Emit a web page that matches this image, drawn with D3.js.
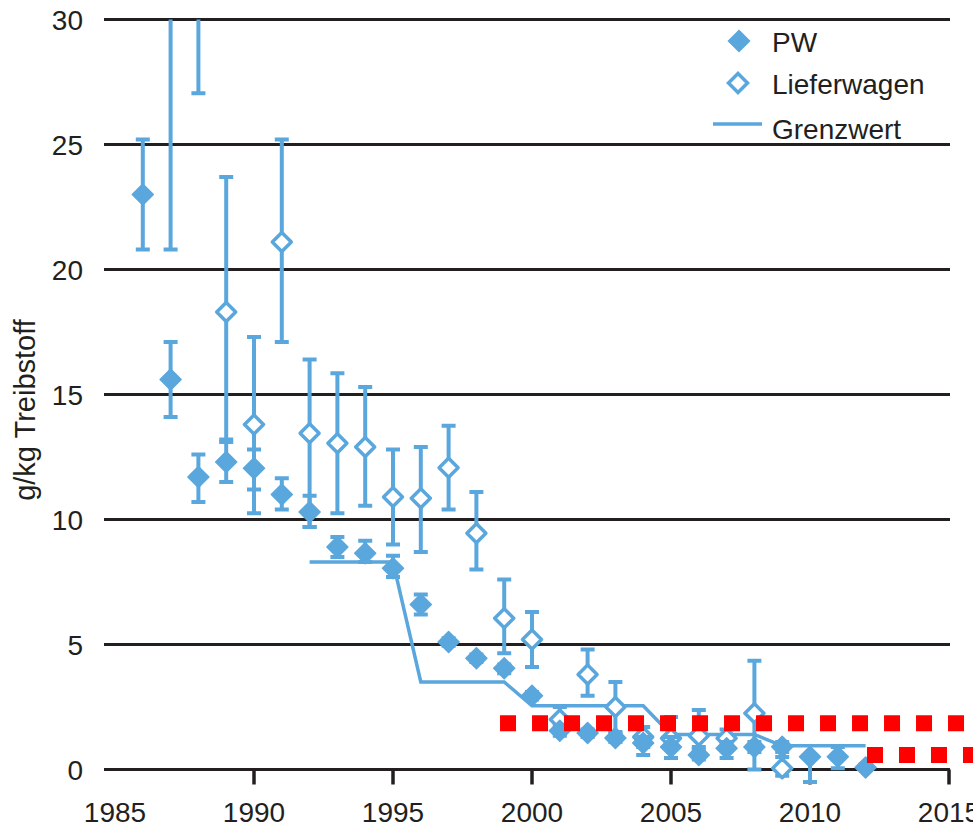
<!DOCTYPE html>
<html>
<head>
<meta charset="utf-8">
<script src="https://cdn.jsdelivr.net/npm/d3@7"></script>
<style>
  body { margin: 0; background: #fff; }
  svg { display: block; }
  text { font-family: "Liberation Sans", Arial, sans-serif; fill: #231f20; }
</style>
</head>
<body>
<svg id="chart"></svg>
<script>
// PW (filled diamonds)
const pwYears  = [1986,1987,1988,1989,1990,1991,1992,1993,1994,1995,1996,1997,1998,1999,2000,2001,2002,2003,2004,2005,2006,2007,2008,2009,2010,2011,2012];
const pwValues = [23.0,15.6,11.7,12.3,12.05,11.0,10.3,8.9,8.65,8.05,6.6,5.1,4.45,4.05,2.95,1.55,1.46,1.26,1.06,0.9,0.58,0.85,0.9,0.91,0.51,0.51,0.08];
const pwLow    = [20.8,14.1,10.7,11.5,11.2,10.4,9.7,8.5,8.3,7.7,6.2,4.95,4.3,3.85,2.8,1.35,1.3,1.1,0.58,0.46,0.4,0.46,0.7,0.7,-0.5,0.05,0.0];
const pwHigh   = [25.2,17.1,12.6,13.1,12.8,11.65,10.95,9.3,9.15,8.55,7.0,5.25,4.6,4.2,3.1,1.75,1.6,1.45,1.3,1.3,0.8,1.1,1.1,1.1,0.6,0.9,0.2];

// Lieferwagen (open diamonds) - 1987/1988 lie above the 30 line
const lwYears  = [1987,1988,1989,1990,1991,1992,1993,1994,1995,1996,1997,1998,1999,2000,2001,2002,2003,2004,2005,2006,2007,2008,2009];
const lwValues = [35,35,18.3,13.8,21.1,13.45,13.05,12.9,10.9,10.85,12.07,9.45,6.05,5.2,2.0,3.8,2.5,1.3,1.25,1.35,1.25,2.25,0.05];
const lwLow    = [20.8,27.05,13.2,10.25,17.1,9.7,10.25,10.55,9.0,8.7,10.4,8.0,4.65,4.1,1.6,2.95,1.5,0.9,0.9,0.9,0.9,0.0,-0.25];
const lwHigh   = [45,45,23.7,17.3,25.2,16.4,15.85,15.3,12.8,12.9,13.75,11.1,7.6,6.3,2.5,4.8,3.5,1.7,2.1,2.38,1.6,4.35,0.5];

// Grenzwert (limit)
const limitYears  = [1992,1995,1996,1999,2000,2004,2005,2008,2009,2012];
const limitValues = [8.3,8.3,3.5,3.5,2.55,2.55,1.4,1.4,0.95,0.95];

// red dotted marks
const redFrom   = [1998.85, 2012.05];
const redValues = [1.85, 0.58];

const yTicks = [0,5,10,15,20,25,30];
const xTicks = [1985,1990,1995,2000,2005,2010,2015];
const legendLabels = ["PW", "Lieferwagen", "Grenzwert"];

class ErrorChart {
  constructor(_config) {
    this.config = {
      parentElement: _config.parentElement,
      containerWidth: _config.containerWidth || 973,
      containerHeight: _config.containerHeight || 828,
      color: '#5aa7dd'
    }
    this.initVis();
  }

  initVis() {
    let vis = this;
    vis.svg = d3.select(vis.config.parentElement)
      .attr('width', vis.config.containerWidth)
      .attr('height', vis.config.containerHeight);

    vis.xScale = d3.scaleLinear().domain([1985, 2015]).range([115, 949]);
    vis.yScale = d3.scaleLinear().domain([0, 30]).range([769.5, 19.5]);

    vis.svg.append('defs').append('clipPath').attr('id', 'clip')
      .append('rect')
      .attr('x', 0).attr('y', vis.yScale(30))
      .attr('width', vis.config.containerWidth)
      .attr('height', vis.config.containerHeight);

    vis.renderVis();
  }

  renderVis() {
    let vis = this;
    const x = vis.xScale, y = vis.yScale;
    const color = vis.config.color;

    // grid lines
    vis.svg.append('g').selectAll('line')
      .data(yTicks)
      .join('line')
      .attr('x1', 104).attr('x2', 950)
      .attr('y1', d => y(d)).attr('y2', d => y(d))
      .attr('stroke', '#231f20')
      .attr('stroke-width', 3);

    // y labels
    vis.svg.append('g').selectAll('text')
      .data(yTicks)
      .join('text')
      .attr('x', 83)
      .attr('y', d => y(d) + 10)
      .attr('text-anchor', 'end')
      .style('font-size', '28px')
      .text(d => d);

    // x ticks + labels
    const xAxis = vis.svg.append('g');
    xAxis.selectAll('line')
      .data(xTicks.filter(d => d > 1985))
      .join('line')
      .attr('x1', d => x(d)).attr('x2', d => x(d))
      .attr('y1', y(0)).attr('y2', y(0) + 15)
      .attr('stroke', '#231f20')
      .attr('stroke-width', 3.5);
    xAxis.selectAll('text')
      .data(xTicks)
      .join('text')
      .attr('x', d => x(d))
      .attr('y', 822)
      .attr('text-anchor', 'middle')
      .style('font-size', '28px')
      .text(d => d);

    // axis title
    vis.svg.append('text')
      .attr('transform', 'translate(35, 410) rotate(-90)')
      .attr('text-anchor', 'middle')
      .style('font-size', '29px')
      .text('g/kg Treibstoff');

    const plot = vis.svg.append('g').attr('clip-path', 'url(#clip)');

    // Grenzwert line
    const limitData = limitYears.map((d, i) => [d, limitValues[i]]);
    plot.append('path')
      .datum(limitData)
      .attr('d', d3.line().x(d => x(d[0])).y(d => y(d[1])))
      .attr('fill', 'none')
      .attr('stroke', color)
      .attr('stroke-width', 3.5);

    const pwData = pwYears.map((d, i) => ({year: d, value: pwValues[i], low: pwLow[i], high: pwHigh[i]}));
    const lwData = lwYears.map((d, i) => ({year: d, value: lwValues[i], low: lwLow[i], high: lwHigh[i]}));

    function drawErrors(g, data) {
      g.selectAll('.err')
        .data(data)
        .join('line')
        .attr('class', 'err')
        .attr('x1', d => x(d.year)).attr('x2', d => x(d.year))
        .attr('y1', d => y(d.low)).attr('y2', d => y(d.high))
        .attr('stroke', color).attr('stroke-width', 4);
      g.selectAll('.cap-top')
        .data(data)
        .join('line')
        .attr('class', 'cap-top')
        .attr('x1', d => x(d.year) - 7).attr('x2', d => x(d.year) + 7)
        .attr('y1', d => y(d.high)).attr('y2', d => y(d.high))
        .attr('stroke', color).attr('stroke-width', 4);
      g.selectAll('.cap-bot')
        .data(data)
        .join('line')
        .attr('class', 'cap-bot')
        .attr('x1', d => x(d.year) - 7).attr('x2', d => x(d.year) + 7)
        .attr('y1', d => y(d.low)).attr('y2', d => y(d.low))
        .attr('stroke', color).attr('stroke-width', 4);
    }

    const lwG = plot.append('g');
    const pwG = plot.append('g');
    drawErrors(lwG, lwData);
    drawErrors(pwG, pwData);

    const diamond = r => `M0,${-r}L${r},0L0,${r}L${-r},0Z`;

    lwG.selectAll('.mark')
      .data(lwData)
      .join('path')
      .attr('class', 'mark')
      .attr('d', diamond(9.5))
      .attr('transform', d => `translate(${x(d.year)},${y(d.value)})`)
      .attr('fill', '#fff')
      .attr('stroke', color)
      .attr('stroke-width', 3.5)
      .attr('stroke-linejoin', 'round');

    pwG.selectAll('.mark')
      .data(pwData)
      .join('path')
      .attr('class', 'mark')
      .attr('d', diamond(10.5))
      .attr('transform', d => `translate(${x(d.year)},${y(d.value)})`)
      .attr('fill', color)
      .attr('stroke', color)
      .attr('stroke-width', 1.5)
      .attr('stroke-linejoin', 'round');

    // red dotted lines
    vis.svg.append('g').selectAll('line')
      .data(redFrom.map((d, i) => ({from: d, value: redValues[i]})))
      .join('line')
      .attr('x1', d => x(d.from)).attr('x2', x(2016))
      .attr('y1', d => y(d.value)).attr('y2', d => y(d.value))
      .attr('stroke', '#ff0000')
      .attr('stroke-width', 16)
      .attr('stroke-dasharray', '16,16');

    // legend
    const legend = vis.svg.append('g');
    legend.append('path')
      .attr('d', diamond(10.5))
      .attr('transform', 'translate(739,41)')
      .attr('fill', color).attr('stroke', color).attr('stroke-width', 1.5);
    legend.append('path')
      .attr('d', diamond(9.5))
      .attr('transform', 'translate(738,83)')
      .attr('fill', '#fff').attr('stroke', color).attr('stroke-width', 3.5);
    legend.append('line')
      .attr('x1', 713).attr('x2', 762)
      .attr('y1', 124).attr('y2', 124)
      .attr('stroke', color).attr('stroke-width', 3.5);
    legend.selectAll('text')
      .data(legendLabels)
      .join('text')
      .attr('x', 772)
      .attr('y', (d, i) => [52, 94, 139][i])
      .style('font-size', '28px')
      .text(d => d);
  }
}

new ErrorChart({parentElement: '#chart', containerWidth: 973, containerHeight: 828});
</script>
</body>
</html>
